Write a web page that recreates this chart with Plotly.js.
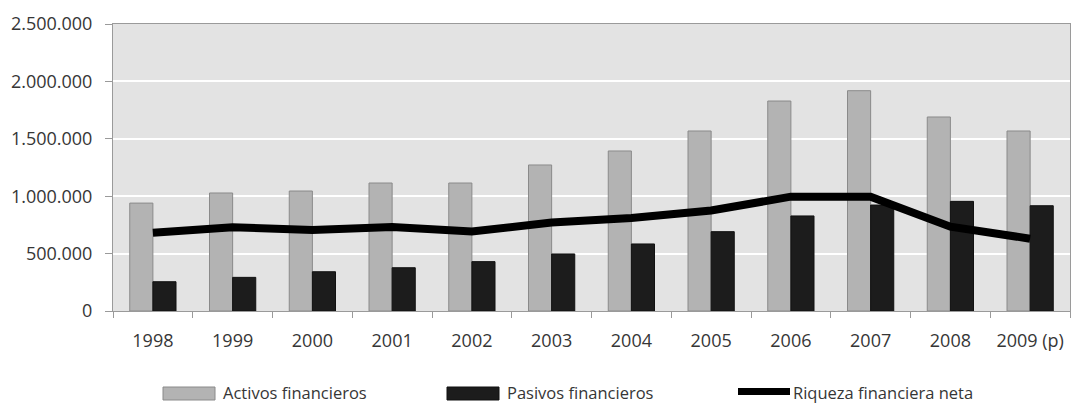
<!DOCTYPE html>
<html>
<head>
<meta charset="utf-8">
<script src="https://cdn.plot.ly/plotly-3.0.1.min.js"></script>
<style>
  html, body { margin: 0; padding: 0; background: #ffffff; }
  #chart { width: 1073px; height: 405px; }
</style>
</head>
<body>
<div id="chart"></div>
<script>
// Años (2009 provisional)
const years = ['1998', '1999', '2000', '2001', '2002', '2003', '2004', '2005', '2006', '2007', '2008', '2009 (p)'];

// Activos financieros
const activos = [940000, 1028000, 1045000, 1115000, 1115000, 1272000, 1394000, 1568000, 1829000, 1919000, 1690000, 1568000];

// Pasivos financieros
const pasivos = [255000, 293000, 342000, 377000, 430000, 497000, 584000, 691000, 828000, 923000, 955000, 917000];

// Riqueza financiera neta
const riqueza = [682000, 730000, 705000, 732000, 692000, 770000, 810000, 875000, 996000, 996000, 735000, 630000];

const legendLabels = ['Activos financieros', 'Pasivos financieros', 'Riqueza financiera neta'];

const fontFamily = '"Open Sans", "Noto Sans", sans-serif';
const textColor = '#363636';

const traces = [
  {
    type: 'bar',
    name: legendLabels[0],
    x: years,
    y: activos,
    marker: { color: '#b3b3b3', line: { color: '#8a8a8a', width: 1 } },
    hoverinfo: 'x+y'
  },
  {
    type: 'bar',
    name: legendLabels[1],
    x: years,
    y: pasivos,
    marker: { color: '#1c1c1c', line: { color: '#111111', width: 1 } },
    hoverinfo: 'x+y'
  },
  {
    type: 'scatter',
    mode: 'lines',
    name: legendLabels[2],
    x: years,
    y: riqueza,
    line: { color: '#000000', width: 8 },
    hoverinfo: 'x+y'
  }
];

// Leyenda dibujada con formas y anotaciones (muestras anchas bajo el eje)
function legendSwatch(x0, y0, y1, fill, lineColor) {
  return {
    type: 'rect', xref: 'paper', yref: 'paper', xsizemode: 'pixel', ysizemode: 'pixel',
    xanchor: 0, yanchor: 0, x0: x0, x1: x0 + 52, y0: y0, y1: y1,
    fillcolor: fill, line: lineColor ? { color: lineColor, width: 1 } : { width: 0 }
  };
}
function legendText(shift, text) {
  return {
    xref: 'paper', yref: 'paper', x: 0, y: 0, xshift: shift, yshift: -81,
    xanchor: 'left', yanchor: 'middle', showarrow: false, text: text,
    borderpad: 0,
    font: { family: fontFamily, size: 16.5, color: textColor }
  };
}

const layout = {
  width: 1073,
  height: 405,
  margin: { l: 113, r: 3, t: 24, b: 94 },
  paper_bgcolor: '#ffffff',
  plot_bgcolor: '#e3e3e3',
  separators: ',.',
  showlegend: false,
  barmode: 'group',
  bargap: 0.42,
  bargroupgap: 0,
  font: { family: fontFamily, size: 18, color: textColor },
  xaxis: {
    type: 'category',
    showgrid: false,
    showline: true,
    linecolor: '#9a9a9a',
    linewidth: 1,
    mirror: true,
    ticks: 'outside',
    tickson: 'boundaries',
    ticklen: 6,
    tickcolor: '#9a9a9a',
    ticklabelstandoff: 13,
    tickfont: { family: fontFamily, size: 18, color: textColor },
    fixedrange: true
  },
  yaxis: {
    range: [0, 2500000],
    dtick: 500000,
    tickformat: ',d',
    showgrid: true,
    gridcolor: '#ffffff',
    gridwidth: 2,
    zeroline: false,
    showline: true,
    linecolor: '#9a9a9a',
    linewidth: 1,
    mirror: true,
    ticks: 'outside',
    ticklen: 7,
    tickcolor: '#9a9a9a',
    ticklabelstandoff: 9,
    tickfont: { family: fontFamily, size: 18, color: textColor },
    fixedrange: true
  },
  shapes: [
    legendSwatch(50, -76, -89, '#b3b3b3', '#8a8a8a'),
    legendSwatch(334, -76, -89, '#1c1c1c', '#111111'),
    legendSwatch(625, -77, -84, '#000000', null)
  ],
  annotations: [
    legendText(109, legendLabels[0]),
    legendText(393, legendLabels[1]),
    legendText(679, legendLabels[2])
  ]
};

Plotly.newPlot('chart', traces, layout, { displayModeBar: false, staticPlot: true });
</script>
</body>
</html>
